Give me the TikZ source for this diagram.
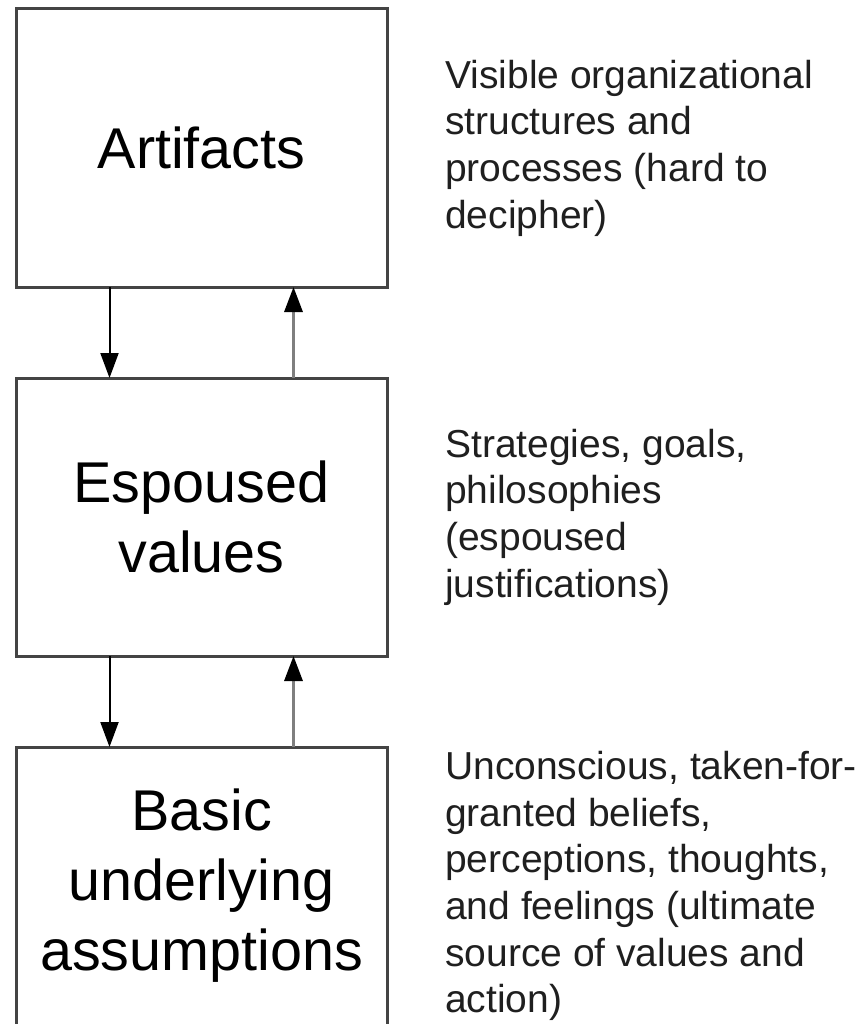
\documentclass[tikz,border=0pt]{standalone}
\usepackage{fontspec}
\setmainfont{Liberation Sans}
\usetikzlibrary{positioning,arrows.meta}
\definecolor{boxgray}{HTML}{444444}
\definecolor{upgray}{HTML}{7F7F7F}
\tikzset{
    level/.style={draw=boxgray,line width=3pt,minimum width=371pt,minimum height=278pt,
        inner sep=0pt,outer sep=0pt,align=center,font=\fontsize{57.5}{70}\selectfont},
    note/.style={inner sep=0pt,align=left,anchor=west,font=\fontsize{39}{46.7}\selectfont,text=black!88},
    down/.style={draw=black,line width=2pt,-{Triangle[length=25pt,width=18pt]}},
    up/.style={draw=upgray,line width=3.2pt,-{Triangle[length=25pt,width=18pt,color=black]}},
}
\begin{document}
\begin{tikzpicture}[x=1pt,y=-1pt,node distance=91pt]
    \useasboundingbox (0,0) rectangle (864,1024);
    \node[level] at (201.5,148) (art) {Artifacts};
    \node[level,below=of art] (esp) {Espoused\\values};
    \node[level,below=of esp] (bas) {Basic\\underlying\\assumptions};

    \node[note,right=58pt of art] (nart) {Visible organizational\\structures and\\processes (hard to\\decipher)};
    \node[note,right=58pt of esp] (nesp) {Strategies, goals,\\philosophies\\(espoused\\justifications)};
    \node[note,right=58pt of bas] (nbas) {Unconscious, taken-for-\\granted beliefs,\\perceptions, thoughts,\\and feelings (ultimate\\source of values and\\action)};

    \draw[down] ([xshift=-92pt]art.south) -- ([xshift=-92pt]esp.north);
    \draw[up] ([xshift=92pt]esp.north) -- ([xshift=92pt]art.south);
    \draw[down] ([xshift=-92pt]esp.south) -- ([xshift=-92pt]bas.north);
    \draw[up] ([xshift=92pt]bas.north) -- ([xshift=92pt]esp.south);
\end{tikzpicture}
\end{document}
